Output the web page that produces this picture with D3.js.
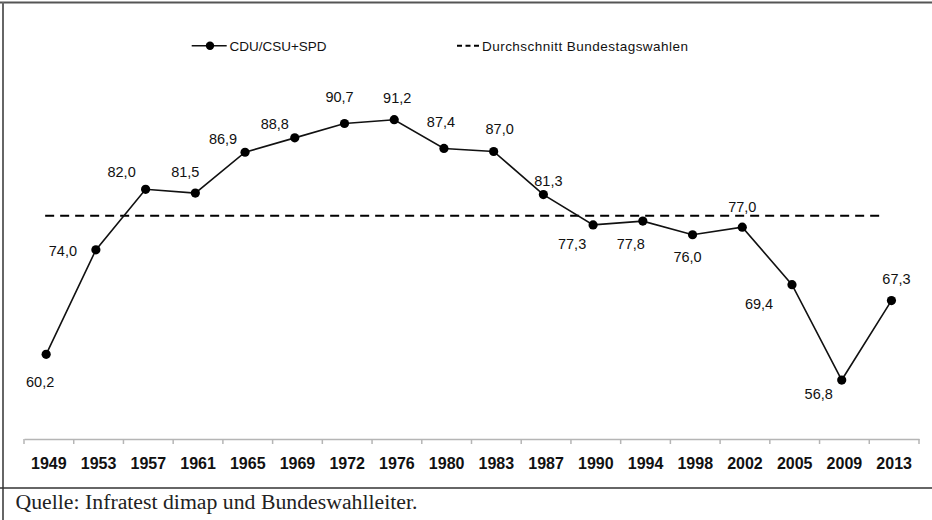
<!DOCTYPE html>
<html><head><meta charset="utf-8">
<script src="https://cdn.jsdelivr.net/npm/d3@7"></script>
<style>
html,body{margin:0;padding:0;background:#fff;}
svg{display:block;}
</style></head>
<body>
<svg id="chart" width="932" height="520"></svg>
<script>
// ---- data ----
const years = ["1949","1953","1957","1961","1965","1969","1972","1976","1980","1983","1987","1990","1994","1998","2002","2005","2009","2013"];
const turnout = [60.2, 74.0, 82.0, 81.5, 86.9, 88.8, 90.7, 91.2, 87.4, 87.0, 81.3, 77.3, 77.8, 76.0, 77.0, 69.4, 56.8, 67.3];
const averageTurnout = 78.5;
const seriesName = "CDU/CSU+SPD";
const averageName = "Durchschnitt Bundestagswahlen";
const sourceText = "Quelle: Infratest dimap und Bundeswahlleiter.";
// label placement offsets (dx, dy) relative to each point
const labelOffsets = [[-6,33],[-33,6],[-24,-12],[-10,-16],[-22,-8],[-20,-9],[-5,-21],[3,-17],[-3,-21],[6,-17],[5,-9],[-21,24],[-12,28],[-5,27],[0,-15],[-33,24],[-23,19],[5,-17]];

const svg = d3.select("#chart");
const fmt = d3.formatLocale({decimal: ",", thousands: ".", grouping: [3], currency: ["", "€"]}).format(".1f");
const sans = "'Liberation Sans', Arial, sans-serif";

// frame
svg.append("line").attr("x1",0).attr("x2",932).attr("y1",2.5).attr("y2",2.5).attr("stroke","#555").attr("stroke-width",2);
svg.append("line").attr("x1",3).attr("x2",3).attr("y1",2).attr("y2",520).attr("stroke","#666").attr("stroke-width",2);
svg.append("line").attr("x1",0).attr("x2",932).attr("y1",488).attr("y2",488).attr("stroke","#333").attr("stroke-width",1.5);

const x = d3.scaleBand().domain(years).range([21.3, 916.3]).padding(0);
const y = d3.scaleLinear().domain([50, 100]).range([431.5, 53.1]);
const cx = d => x(d) + x.bandwidth()/2;

// axis
const axisG = svg.append("g").attr("transform","translate(2.7,439)");
axisG.call(d3.axisBottom(x).tickSize(0).tickPadding(19));
axisG.select(".domain").attr("stroke","#b5b5b5").attr("stroke-width",1.5);
axisG.selectAll(".tick text").attr("font-family",sans).attr("font-size","16px").attr("font-weight","bold").attr("fill","#111");
const bounds = years.map(d => x(d)).concat([x.range()[1]]);
axisG.selectAll("line.bt").data(bounds).enter().append("line").attr("class","bt")
  .attr("x1",d=>d).attr("x2",d=>d).attr("y1",0).attr("y2",5).attr("stroke","#b5b5b5").attr("stroke-width",1.5);

// average dashed line
svg.append("line")
  .attr("x1", cx(years[0]) - 1).attr("x2", cx(years[years.length-1]) - 8)
  .attr("y1", y(averageTurnout)).attr("y2", y(averageTurnout))
  .attr("stroke","#000").attr("stroke-width",2).attr("stroke-dasharray","9,6");

// series line
const line = d3.line().x((d,i)=>cx(years[i])).y(d=>y(d));
svg.append("path").datum(turnout).attr("d",line).attr("fill","none").attr("stroke","#111").attr("stroke-width",1.6);

svg.selectAll("circle.pt").data(turnout).enter().append("circle").attr("class","pt")
  .attr("cx",(d,i)=>cx(years[i])).attr("cy",d=>y(d)).attr("r",4.6).attr("fill","#000");

svg.selectAll("text.lbl").data(turnout).enter().append("text").attr("class","lbl")
  .attr("x",(d,i)=>cx(years[i]) + labelOffsets[i][0])
  .attr("y",(d,i)=>y(d) + labelOffsets[i][1])
  .attr("text-anchor","middle")
  .attr("font-family",sans).attr("font-size","14.5px").attr("fill","#111")
  .text(d=>fmt(d));

// legend
const lg = svg.append("g");
lg.append("line").attr("x1",191.7).attr("x2",226.7).attr("y1",45.7).attr("y2",45.7).attr("stroke","#111").attr("stroke-width",1.6);
lg.append("circle").attr("cx",210).attr("cy",45.7).attr("r",4.2).attr("fill","#000");
lg.append("text").attr("x",229.5).attr("y",50.5).attr("font-family",sans).attr("font-size","13.5px").attr("fill","#111")
  .attr("textLength",97).attr("lengthAdjust","spacingAndGlyphs").text(seriesName);
lg.append("line").attr("x1",457).attr("x2",479).attr("y1",45.7).attr("y2",45.7).attr("stroke","#000").attr("stroke-width",2).attr("stroke-dasharray","5,3.5");
lg.append("text").attr("x",482).attr("y",50.5).attr("font-family",sans).attr("font-size","13.5px").attr("fill","#111")
  .attr("textLength",206).attr("lengthAdjust","spacing").text(averageName);

// source
svg.append("text").attr("x",15.5).attr("y",508.5).attr("font-family","'Liberation Serif', 'DejaVu Serif', serif").attr("font-size","20px").attr("fill","#222")
  .attr("textLength",402).attr("lengthAdjust","spacingAndGlyphs").text(sourceText);
</script>
</body></html>
